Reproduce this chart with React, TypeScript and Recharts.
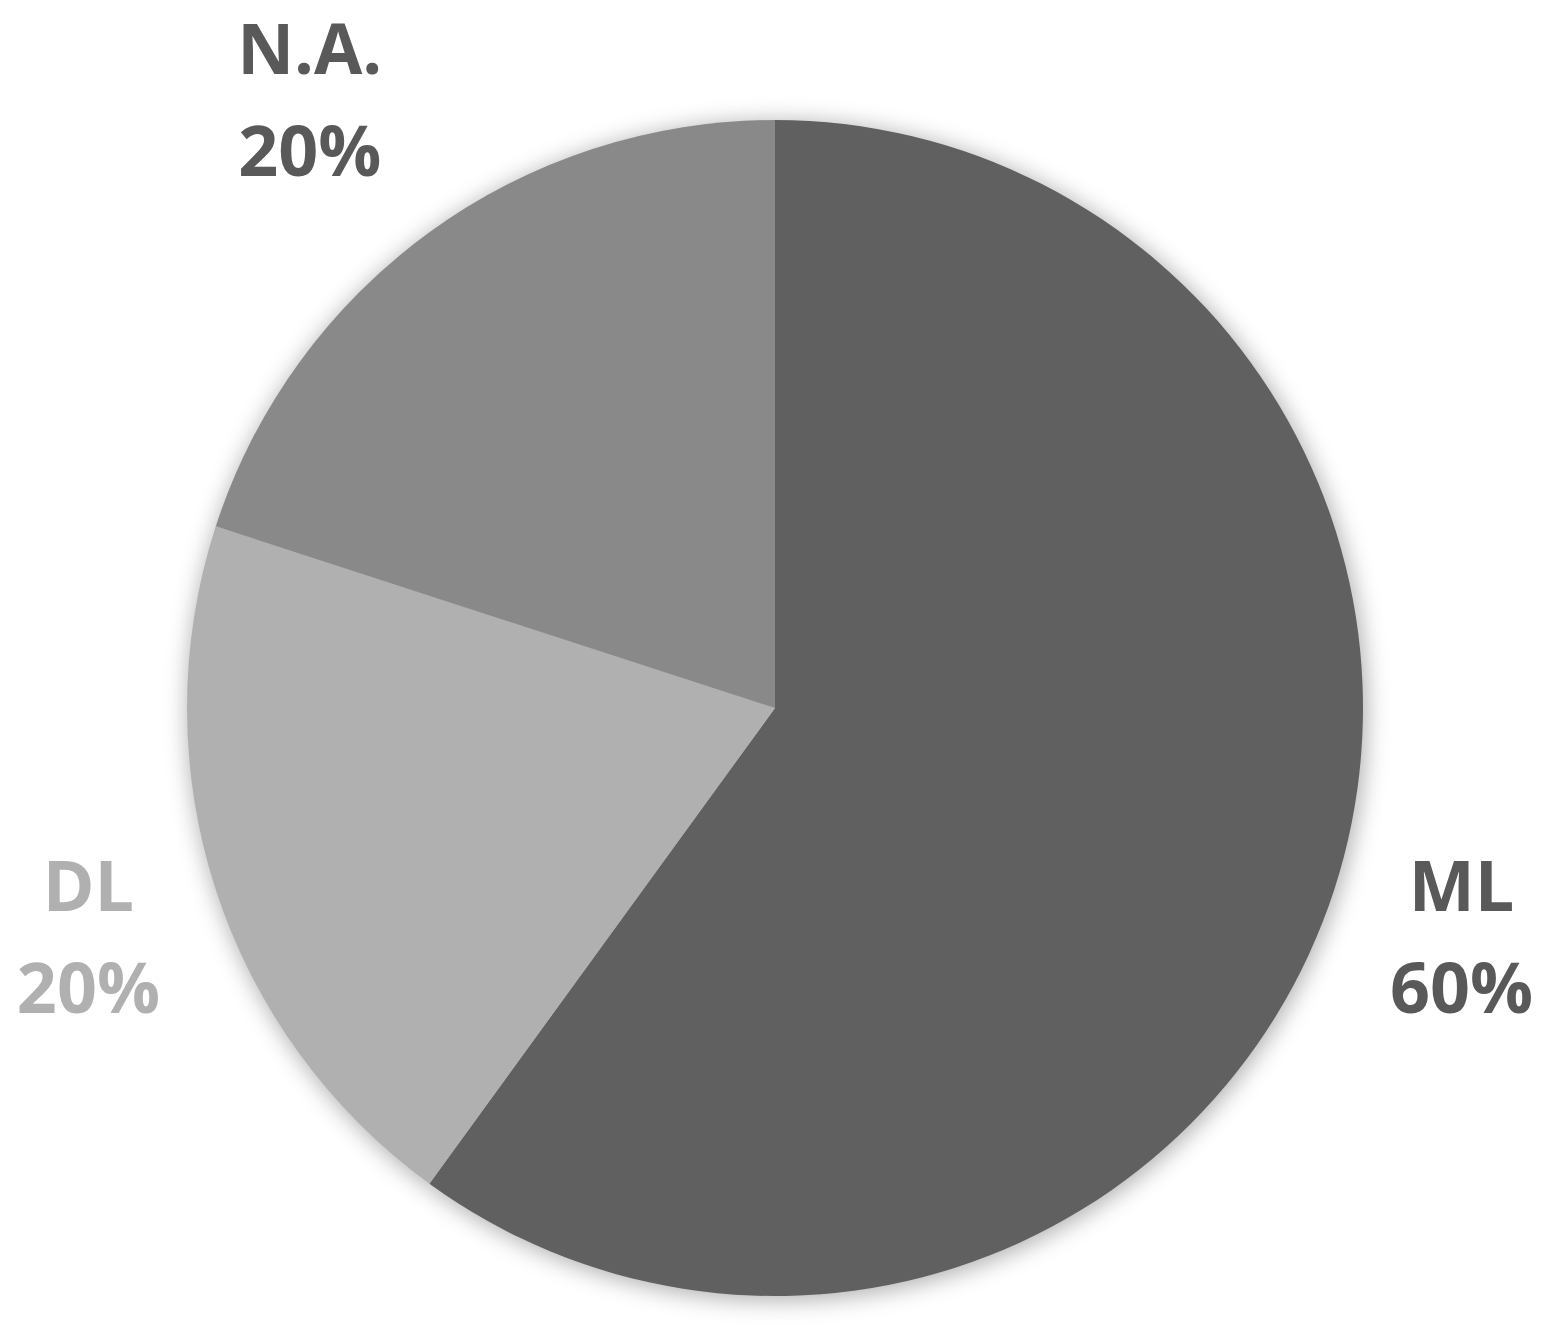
import React from 'react';
import { PieChart, Pie, Cell } from 'recharts';

const categories = ['ML', 'DL', 'N.A.'];
const values = [60, 20, 20];
const sliceColors = ['#606060', '#b0b0b0', '#898989'];
const labelColors = ['#595959', '#b0b0b0', '#595959'];
const labelRadiusExtra = [136, 136, 178];
const labelShiftX = [-2, 2, -15];
const labelShiftY = [4, 4, 11];

const data = categories.map((name, i) => ({ name, value: values[i] }));
const total = values.reduce((a, b) => a + b, 0);

const RAD = Math.PI / 180;

const renderLabel = (props: any) => {
  const { cx, cy, midAngle, outerRadius, index } = props;
  const r = outerRadius + labelRadiusExtra[index];
  const x = cx + r * Math.cos(-midAngle * RAD) + labelShiftX[index];
  const y = cy + r * Math.sin(-midAngle * RAD) + labelShiftY[index];
  const pct = Math.round((values[index] / total) * 100) + '%';
  return (
    <text
      key={'lbl' + index}
      x={x}
      y={y}
      textAnchor="middle"
      fill={labelColors[index]}
      fontFamily="'Open Sans', sans-serif"
      fontWeight={700}
      fontSize={70}
    >
      <tspan x={x} y={y - 25}>{categories[index]}</tspan>
      <tspan x={x} y={y + 77}>{pct}</tspan>
    </text>
  );
};

export default function App() {
  return (
    <div style={{ position: 'absolute', left: 0, top: 0, width: 1555, height: 1325, background: '#fff' }}>
      <PieChart width={1555} height={1325} margin={{ top: 0, right: 0, bottom: 0, left: 0 }}>
        <defs>
          <filter id="pieShadow" x="-20%" y="-20%" width="140%" height="140%">
            <feGaussianBlur stdDeviation="11" />
          </filter>
        </defs>
        <Pie
          data={data}
          dataKey="value"
          nameKey="name"
          cx={777}
          cy={711}
          outerRadius={590}
          startAngle={90}
          endAngle={-270}
          stroke="none"
          isAnimationActive={false}
          label={false}
          labelLine={false}
        >
          {data.map((d, i) => (
            <Cell key={'s' + i} fill="#000" fillOpacity={0.3} filter="url(#pieShadow)" />
          ))}
        </Pie>
        <Pie
          data={data}
          dataKey="value"
          nameKey="name"
          cx={775}
          cy={708}
          outerRadius={588}
          startAngle={90}
          endAngle={-270}
          stroke="none"
          isAnimationActive={false}
          label={renderLabel}
          labelLine={false}
        >
          {data.map((d, i) => (
            <Cell key={'c' + i} fill={sliceColors[i]} />
          ))}
        </Pie>
      </PieChart>
    </div>
  );
}
